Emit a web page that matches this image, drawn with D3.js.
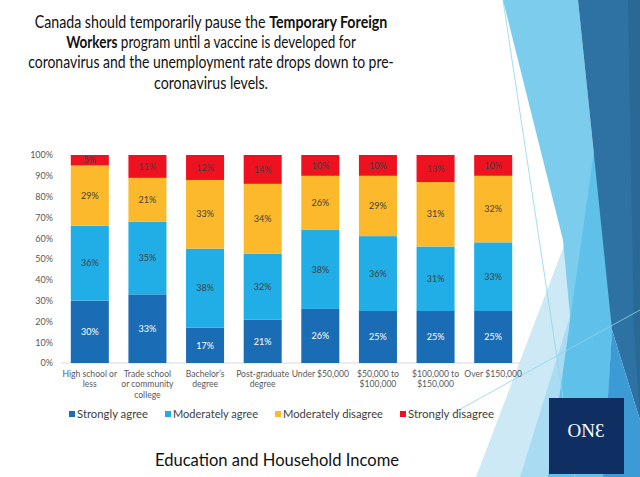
<!DOCTYPE html>
<html>
<head>
<meta charset="utf-8">
<script src="https://cdn.jsdelivr.net/npm/d3@7"></script>
<style>
  html, body { margin: 0; padding: 0; background: #fff; }
  svg { display: block; font-family: Lato, "Open Sans", sans-serif; }
</style>
</head>
<body>
<div id="chart"></div>
<script>
var width = 640;
var height = 477;

// chart data
var categories = ["High school or less", "Trade school or community college", "Bachelor’s degree",
    "Post-graduate degree", "Under $50,000", "$50,000 to $100,000", "$100,000 to $150,000", "Over $150,000"];
var categoryLines = [["High school or", "less"], ["Trade school", "or community", "college"], ["Bachelor’s", "degree"],
    ["Post-graduate", "degree"], ["Under $50,000"], ["$50,000 to", "$100,000"], ["$100,000 to", "$150,000"], ["Over $150,000"]];
var seriesNames = ["Strongly agree", "Moderately agree", "Moderately disagree", "Strongly disagree"];
var stronglyAgree = [30, 33, 17, 21, 26, 25, 25, 25];
var moderatelyAgree = [36, 35, 38, 32, 38, 36, 31, 33];
var moderatelyDisagree = [29, 21, 33, 34, 26, 29, 31, 32];
var stronglyDisagree = [5, 11, 12, 14, 10, 10, 13, 10];
var yTicks = [0, 0.1, 0.2, 0.3, 0.4, 0.5, 0.6, 0.7, 0.8, 0.9, 1];

var colors = ["#1a6db5", "#21ade6", "#fbb92b", "#ee111f"];
var labelColors = ["#ffffff", "#3f3f3f", "#3f3f3f", "#3f3f3f"];

var svg = d3.select("#chart").append("svg")
    .attr("width", width)
    .attr("height", height);

// ---- background facet shapes on the right ----
var deco = svg.append("g");
var shapes = [
    {fill: "#cde9f6", pts: [[568, 235], [640, 477], [476, 477]]},
    {fill: "#a9dcf2", pts: [[575, 300], [612, 477], [520, 477]]},
    {fill: "#7ccded", pts: [[503, 0], [578, 0], [612, 330], [603, 477], [585, 477], [563, 240]]},
    {fill: "#5fc1ea", pts: [[597, 130], [612, 330], [603, 477], [548, 477]]},
    {fill: "#2e71a3", pts: [[578, 0], [640, 0], [640, 420], [612, 330]]},
    {fill: "#2a6896", pts: [[628, 0], [640, 0], [640, 420], [634, 330]]},
    {fill: "#3c9bd4", pts: [[612, 330], [640, 420], [640, 477], [603, 477]]}
];
deco.selectAll("polygon")
    .data(shapes)
    .enter().append("polygon")
    .attr("points", d => d.pts.map(p => p.join(",")).join(" "))
    .attr("fill", d => d.fill);
deco.append("line").attr("x1", 503).attr("y1", 0).attr("x2", 575).attr("y2", 477)
    .attr("stroke", "#8fd3ee").attr("stroke-width", 0.8);
deco.append("line").attr("x1", 455).attr("y1", 412).attr("x2", 640).attr("y2", 310)
    .attr("stroke", "#8fd3ee").attr("stroke-width", 0.8);

// logo
deco.append("rect").attr("x", 549).attr("y", 398).attr("width", 75).attr("height", 76)
    .attr("fill", "#0f2f63");
deco.append("text").attr("x", 586).attr("y", 437)
    .attr("text-anchor", "middle")
    .attr("font-family", "'Liberation Serif', 'DejaVu Serif', serif")
    .attr("font-size", 19)
    .attr("fill", "#ffffff")
    .text("ONƐ");

// ---- title ----
var titleLines = [
    {parts: [["Canada should temporarily pause the ", false], ["Temporary Foreign", true]], w: 353},
    {parts: [["Workers", true], [" program until a vaccine is developed for", false]], w: 290},
    {parts: [["coronavirus and the unemployment rate drops down to pre-", false]], w: 366},
    {parts: [["coronavirus levels.", false]], w: 114}
];
titleLines.forEach(function(line, i) {
    var g = svg.append("g");
    var t = g.append("text")
        .attr("x", 0)
        .attr("y", 0)
        .attr("text-anchor", "middle")
        .attr("font-size", 17)
        .attr("fill", "#111")
        .style("white-space", "pre");
    line.parts.forEach(function(p) {
        t.append("tspan").attr("font-weight", p[1] ? "bold" : "normal").text(p[0]);
    });
    var natural = t.node().getComputedTextLength();
    var sx = natural > 0 ? line.w / natural : 1;
    g.attr("transform", `translate(211,${28 + i * 20.2}) scale(${sx},1)`);
});

// ---- chart ----
var margin = {left: 61, right: 118, top: 155, bottom: 114};
var x = d3.scaleBand()
    .domain(categories)
    .range([margin.left, width - margin.right])
    .paddingInner(0.34)
    .paddingOuter(0.17);
var y = d3.scaleLinear().domain([0, 1]).range([height - margin.bottom, margin.top]);

var table = categories.map(function(c, i) {
    return {
        cat: c,
        "Strongly agree": stronglyAgree[i],
        "Moderately agree": moderatelyAgree[i],
        "Moderately disagree": moderatelyDisagree[i],
        "Strongly disagree": stronglyDisagree[i]
    };
});
var stacked = d3.stack().keys(seriesNames).offset(d3.stackOffsetExpand)(table);

// y axis labels (no line)
var yAxis = svg.append("g")
    .attr("transform", `translate(${margin.left},0)`)
    .call(d3.axisLeft(y).tickValues(yTicks).tickFormat(d3.format(".0%")).tickSize(0).tickPadding(8));
yAxis.select(".domain").remove();
yAxis.selectAll("text").attr("font-family", "Lato, sans-serif").attr("font-size", 9).attr("fill", "#595959");

// baseline
svg.append("line")
    .attr("x1", margin.left).attr("x2", width - margin.right)
    .attr("y1", y(0)).attr("y2", y(0))
    .attr("stroke", "#d9d9d9").attr("stroke-width", 1);

var layers = svg.selectAll(".layer")
    .data(stacked)
    .enter().append("g")
    .attr("class", "layer")
    .attr("fill", (d, i) => colors[i]);

layers.selectAll("rect")
    .data(d => d)
    .enter().append("rect")
    .attr("x", d => x(d.data.cat))
    .attr("y", d => y(d[1]))
    .attr("width", x.bandwidth())
    .attr("height", d => y(d[0]) - y(d[1]));

stacked.forEach(function(layer, si) {
    svg.append("g").selectAll("text")
        .data(layer)
        .enter().append("text")
        .attr("x", d => x(d.data.cat) + x.bandwidth() / 2)
        .attr("y", d => (y(d[0]) + y(d[1])) / 2 + 3.2)
        .attr("text-anchor", "middle")
        .attr("font-size", 9)
        .attr("fill", labelColors[si])
        .text(d => d.data[layer.key] + "%");
});

// category labels
var catLabels = svg.append("g").selectAll("text")
    .data(categories)
    .enter().append("text")
    .attr("text-anchor", "middle")
    .attr("font-size", 8.6)
    .attr("fill", "#595959");
catLabels.each(function(c, i) {
    var t = d3.select(this);
    categoryLines[i].forEach(function(l, j) {
        t.append("tspan")
            .attr("x", x(c) + x.bandwidth() / 2)
            .attr("y", y(0) + 14 + j * 10.4)
            .text(l);
    });
});

// legend
var legendX = [69, 165, 275, 400];
var legendW = [71, 85, 100, 86];
var legend = svg.append("g").selectAll("g")
    .data(seriesNames)
    .enter().append("g")
    .attr("transform", (d, i) => `translate(${legendX[i]},411)`);
legend.append("rect").attr("width", 6).attr("height", 6).attr("fill", (d, i) => colors[i]);
legend.append("text")
    .attr("x", 8)
    .attr("y", 7)
    .attr("font-size", 12)
    .attr("fill", "#404040")
    .attr("textLength", (d, i) => legendW[i])
    .attr("lengthAdjust", "spacingAndGlyphs")
    .text(d => d);

// caption
svg.append("text")
    .attr("x", 277)
    .attr("y", 466)
    .attr("text-anchor", "middle")
    .attr("font-size", 18)
    .attr("fill", "#111")
    .attr("textLength", 244)
    .attr("lengthAdjust", "spacingAndGlyphs")
    .text("Education and Household Income");
</script>
</body>
</html>
